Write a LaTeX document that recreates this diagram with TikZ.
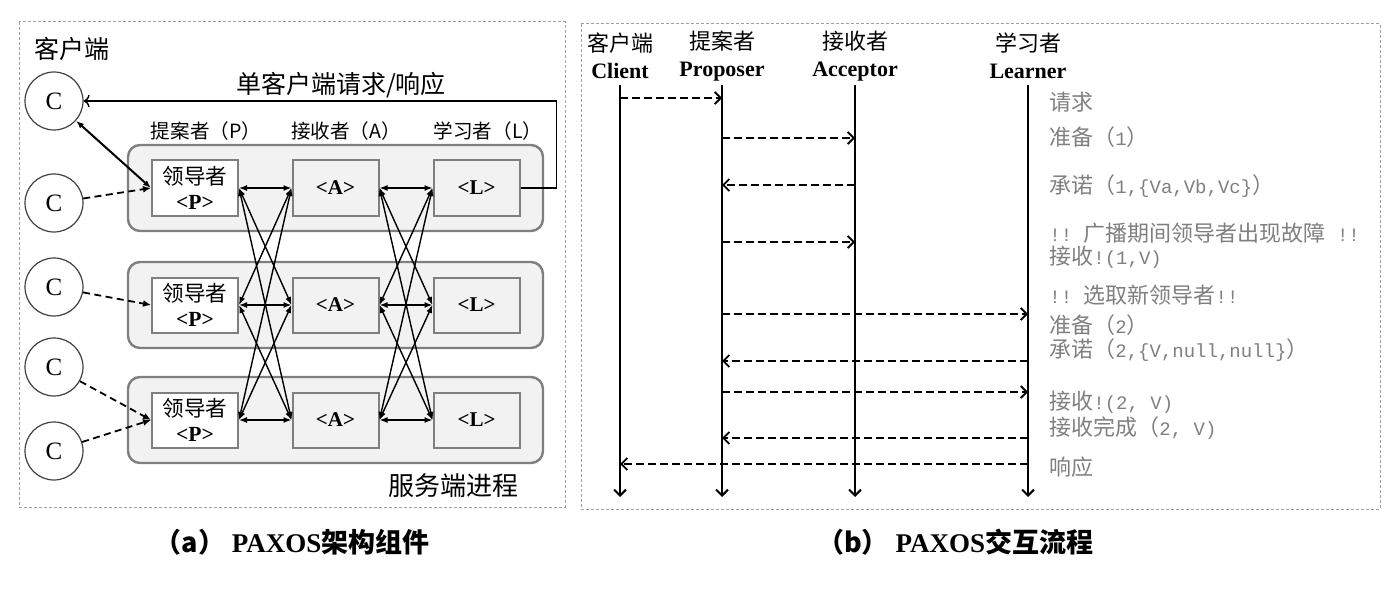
\documentclass[tikz,border=0pt]{standalone}
\usepackage{fontspec}
\setmainfont{Liberation Serif}
\setmonofont{Liberation Mono}
\newfontfamily\cjk{Noto Sans CJK SC}
\usetikzlibrary{arrows.meta}
\definecolor{boxgray}{HTML}{F2F2F2}
\definecolor{linegray}{HTML}{7F7F7F}
\definecolor{framegray}{HTML}{A0A0A0}
\newcommand{\lzh}[1]{{\cjk\fontsize{11}{13}\selectfont #1}}

\tikzset{
  panel/.style={draw=framegray, line width=0.5pt, dash pattern=on 1.5pt off 1pt},
  client/.style={circle, draw=black!75, line width=0.6pt, minimum size=29pt, inner sep=0pt, font=\fontsize{12.5}{14}\selectfont},
  group/.style={draw=linegray, fill=boxgray, line width=1.2pt, rounded corners=6pt, minimum width=207.5pt, minimum height=43pt},
  role/.style={draw=linegray, fill=boxgray, line width=1pt, minimum width=43pt, minimum height=27.5pt, inner sep=0pt, align=center, font=\bfseries\fontsize{10.5}{12.5}\selectfont},
  leader/.style={role, fill=white, font=\fontsize{10.8}{12.5}\selectfont},
  link/.style={{Latex[length=4pt,width=3pt]}-{Latex[length=4pt,width=3pt]}, line width=0.7pt},
  req/.style={-{Latex[length=4pt,width=3.5pt]}, line width=0.9pt, dash pattern=on 3.5pt off 2.2pt},
  head/.style={align=center, inner sep=0pt, font=\fontsize{11}{13.5}\selectfont},
  life/.style={-{Straight Barb[length=3pt,width=6pt]}, line width=1pt},
  msg/.style={-{Straight Barb[length=3pt,width=6pt]}, line width=0.9pt, dash pattern=on 4pt off 2pt},
  lbl/.style={anchor=west, inner sep=0pt, text=linegray, font=\ttfamily\fontsize{9.5}{11}\selectfont},
  capt/.style={font=\bfseries\fontsize{13.5}{16}\selectfont}
}

\begin{document}
\begin{tikzpicture}[x=0.5pt, y=-0.5pt]
	\useasboundingbox (0,0) rectangle (1400,593);

	% (a) components
	\draw[panel] (19,22) rectangle (565,507);
	\node[font=\cjk\fontsize{12.5}{14}\selectfont] (clients) at (72,49) {客户端};
	\foreach \i/\y in {1/101,2/203,3/287,4/367,5/451}
		\node[client] (c\i) at (54,\y) {C};
	\node[font=\cjk\fontsize{12.5}{14}\selectfont] (single) at (341,85) {单客户端请求/响应};
	\node[font=\cjk\fontsize{9.8}{12}\selectfont] (hdp) at (206,131) {提案者（P）};
	\node[font=\cjk\fontsize{9.8}{12}\selectfont] (hda) at (346,131) {接收者（A）};
	\node[font=\cjk\fontsize{9.8}{12}\selectfont] (hdl) at (488,131) {学习者（L）};

	\foreach \i/\y in {1/188,2/305,3/420} {
		\node[group] (g\i) at (335.5,\y) {};
		\node[leader] (p\i) at (195,\y) {{\cjk 领导者}\\\textbf{<P>}};
		\node[role] (a\i) at (335.5,\y) {<A>};
		\node[role] (l\i) at (476.5,\y) {<L>};
	}
	\node[font=\cjk\fontsize{13}{15}\selectfont] (server) at (453,486) {服务端进程};

	\foreach \i in {1,2,3}
		\foreach \j in {1,2,3} {
			\draw[link] (p\i.east) -- (a\j.west);
			\draw[link] (a\i.east) -- (l\j.west);
		}

	\draw[link, line width=1pt] (c1) -- (p1.west);
	\draw[-{To[length=3pt]}, line width=0.7pt] (l1.east) -- ++(36,0) |- (c1);
	\draw[req] (c2) -- (p1.west);
	\draw[req] (c3) -- (p2.west);
	\draw[req] (c4) -- (p3.west);
	\draw[req] (c5) -- (p3.west);

	% (b) message flow
	\draw[panel] (581,24) rectangle (1380,509);
	\node[head] (hc) at (620,56) {{\cjk 客户端}\\\textbf{Client}};
	\node[head] (hp) at (722,56) {{\cjk 提案者}\\\textbf{Proposer}};
	\node[head] (ha) at (855,56) {{\cjk 接收者}\\\textbf{Acceptor}};
	\node[head] (hl) at (1028,56) {{\cjk 学习者}\\\textbf{Learner}};
	\foreach \n in {hc,hp,ha,hl}
		\draw[life] (\n |- 0,85) -- (\n |- 0,497);

	\foreach \from/\to/\y in {hc/hp/98, hp/ha/138, ha/hp/185, hp/ha/242, hp/hl/314, hl/hp/361, hp/hl/392, hl/hp/438, hl/hc/464}
		\draw[msg] (\from |- 0,\y) -- (\to |- 0,\y);

	\node[lbl] (t1) at (1049,102) {\lzh{请求}};
	\node[lbl] (t2) at (1049,137) {\lzh{准备（}1\lzh{）}};
	\node[lbl] (t3) at (1049,186) {\lzh{承诺（}1,\{Va,Vb,Vc\}\lzh{）}};
	\node[lbl] (t4) at (1049,233) {!! \lzh{广播期间领导者出现故障} !!};
	\node[lbl] (t5) at (1049,257) {\lzh{接收}!(1,V)};
	\node[lbl] (t6) at (1049,295) {!! \lzh{选取新领导者}!!};
	\node[lbl] (t7) at (1049,325) {\lzh{准备（}2\lzh{）}};
	\node[lbl] (t8) at (1049,350) {\lzh{承诺（}2,\{V,null,null\}\lzh{）}};
	\node[lbl] (t9) at (1049,402) {\lzh{接收}!(2, V)};
	\node[lbl] (t10) at (1049,428) {\lzh{接收完成（}2, V)};
	\node[lbl] (t11) at (1049,467) {\lzh{响应}};

	% captions
	\node[capt] (capa) at (292,542) {{\cjk （a）} PAXOS{\cjk 架构组件}};
	\node[capt] (capb) at (955,542) {{\cjk （b）} PAXOS{\cjk 交互流程}};
\end{tikzpicture}
\end{document}
